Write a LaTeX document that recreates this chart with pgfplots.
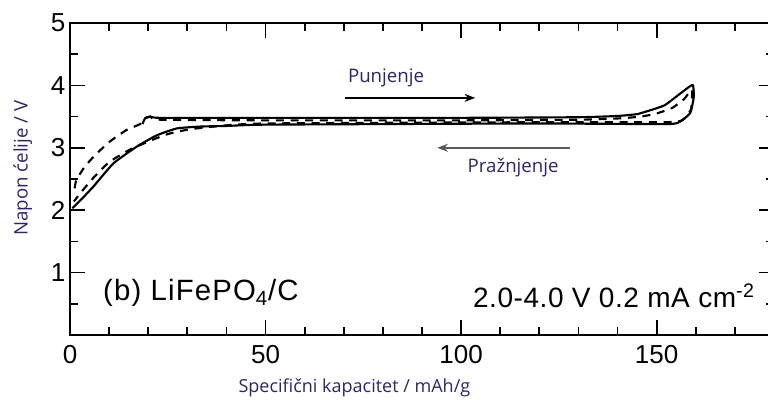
\documentclass[border=0pt]{standalone}
\usepackage{fontspec}
\setmainfont{Liberation Sans}
\newfontfamily\uifont{Open Sans}
\usepackage{pgfplots}
\pgfplotsset{compat=1.18}
\usetikzlibrary{arrows.meta}
\definecolor{lab}{RGB}{45,38,100}
\begin{document}
\begin{tikzpicture}
\begin{axis}[
  scale only axis, width=528pt, height=234pt,
  xmin=0, xmax=180, ymin=0, ymax=5,
  xtick={0,50,100,150}, minor xtick={10,20,30,40,60,70,80,90,110,120,130,140,160,170},
  ytick={1,2,3,4,5}, minor ytick={0.5,1.5,2.5,3.5,4.5},
  tick align=inside, tick pos=both,
  major tick length=11pt, minor tick length=6pt,
  every tick/.style={black, line width=1.3pt},
  axis line style={line width=1.5pt},
  /pgf/number format/assume math mode=true,
  ticklabel style={font=\fontsize{19.5}{20}\selectfont},
  xticklabel style={yshift=-4pt},
  xlabel={Specifični kapacitet / mAh/g},
  ylabel={Napon ćelije / V},
  xlabel style={font=\uifont\fontsize{13.5}{14}\selectfont, text=lab, at={(rel axis cs:0.404,-0.17)}, anchor=center},
  ylabel style={font=\uifont\fontsize{14}{15}\selectfont, text=lab, at={(rel axis cs:-0.067,0.535)}, anchor=center},
  clip=false,
]
% solid cycle: charge then discharge
\addplot[black, line width=1.6pt, smooth, tension=0.3] coordinates {
(18.5,3.38) (19.2,3.47) (20.5,3.50) (23,3.48) (50,3.48) (100,3.48) (130,3.49) (140,3.51) (145,3.54) (148.3,3.60) (152,3.68) (155,3.82) (158.6,3.99) (159.3,4.00)
(159.5,3.82) (158.6,3.56) (156,3.42) (152.6,3.38) (120,3.39) (80,3.38) (48.6,3.37) (40,3.35) (33.2,3.34) (27.3,3.31) (22.2,3.20) (17.1,3.02) (11.1,2.75) (6,2.38) (3,2.18) (0.6,2.03)
};
% dashed cycle
\addplot[black, line width=1.6pt, dash pattern=on 6pt off 5pt, smooth, tension=0.3] coordinates {
(1.2,2.35) (1.6,2.48) (3.8,2.70) (6.7,2.90) (10.2,3.10) (14.3,3.28) (17.9,3.38) (19,3.47) (20.5,3.50) (23,3.45) (50,3.44) (100,3.44) (130,3.45) (140,3.47) (146,3.50) (150,3.55) (154,3.64) (157,3.78) (159,3.93)
(158.8,3.62) (156.5,3.44) (152,3.41) (120,3.41) (80,3.40) (50,3.39) (42,3.37) (35,3.33) (30,3.29) (25,3.22) (20,3.10) (15,2.96) (10,2.77) (6,2.52) (3,2.30) (1,2.14)
};
% annotations
\draw[-{Stealth[length=8pt,width=6pt]}, line width=1.2pt, black] (axis cs:70.3,3.8) -- (axis cs:103.6,3.8);
\draw[-{Stealth[length=8pt,width=6pt]}, line width=1.2pt, black!65] (axis cs:127.9,3.0) -- (axis cs:93.9,3.0);
\node[font=\uifont\fontsize{14}{15}\selectfont, text=lab] at (axis cs:80.8,4.12) {Punjenje};
\node[font=\uifont\fontsize{14}{15}\selectfont, text=lab] at (axis cs:113.3,2.68) {Pražnjenje};
\node[anchor=west, font=\fontsize{22}{23}\selectfont\addfontfeature{LetterSpace=4}, inner sep=0pt] at (axis cs:8.4,0.67) {(b) LiFePO\textsubscript{4}/C};
\node[anchor=west, font=\fontsize{21}{22}\selectfont\addfontfeature{LetterSpace=2}, inner sep=0pt] at (axis cs:103,0.63) {2.0-4.0 V 0.2 mA cm\textsuperscript{-2}};
\coordinate (sw) at (rel axis cs:0,0);
\coordinate (ne) at (rel axis cs:1,1);
\end{axis}
\pgfresetboundingbox
\path[use as bounding box] ([shift={(-52.5pt,-48.75pt)}]sw) rectangle ([shift={(-4.5pt,17.25pt)}]ne);
\end{tikzpicture}
\end{document}
